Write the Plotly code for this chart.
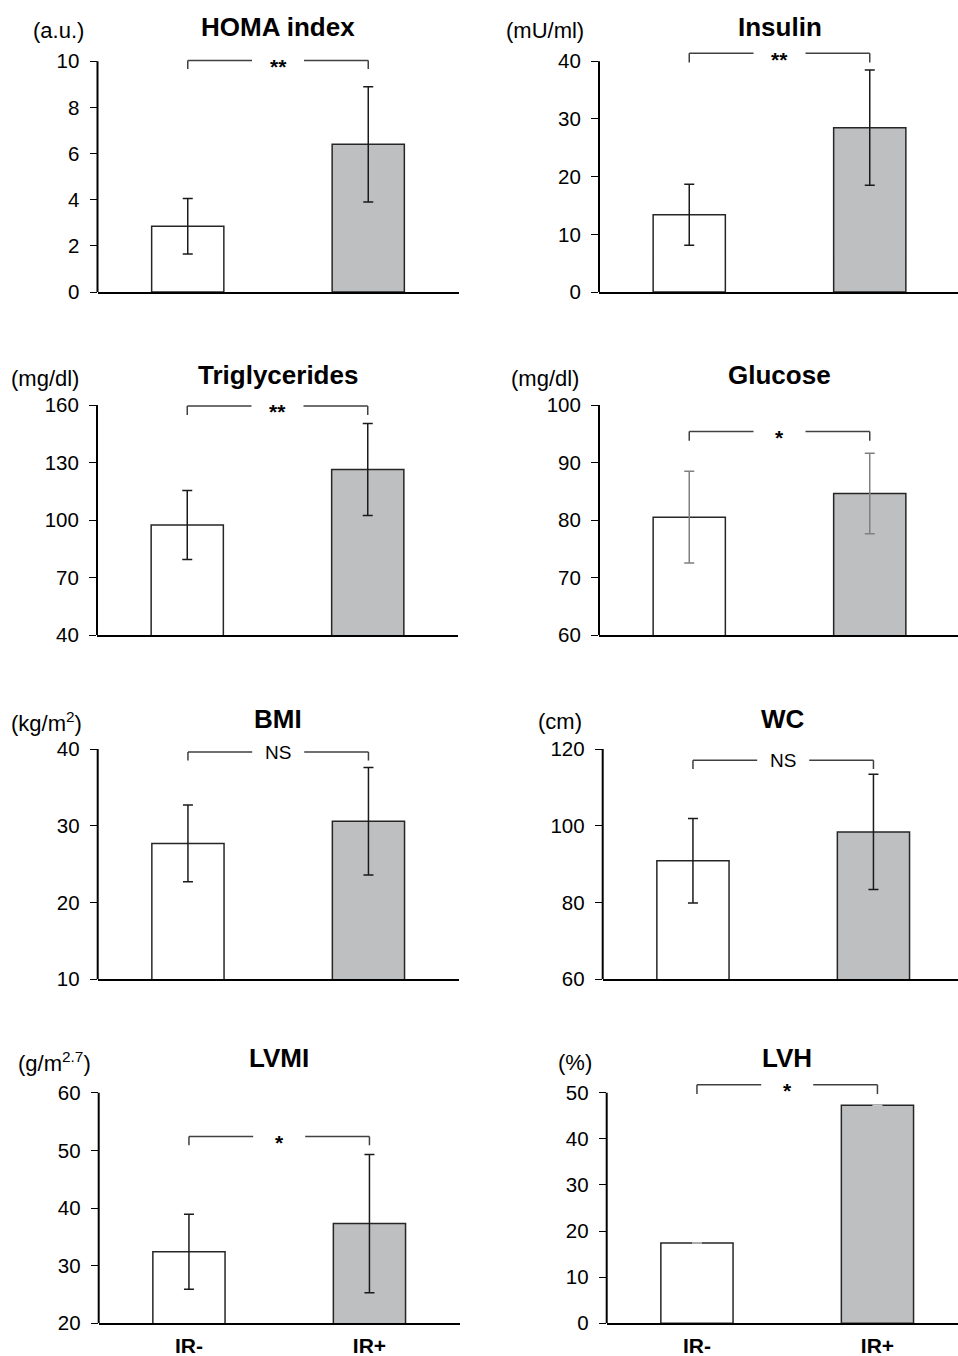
import plotly.graph_objects as go

# ---------------- data ----------------
panels = ["HOMA index", "Insulin", "Triglycerides", "Glucose", "BMI", "WC", "LVMI", "LVH"]
units = ["(a.u.)", "(mU/ml)", "(mg/dl)", "(mg/dl)", "(kg/m<sup>2</sup>)", "(cm)",
         "(g/m<sup>2.7</sup>)", "(%)"]
groups = ["IR-", "IR+"]
ir_neg_mean = [2.85, 13.4, 97.4, 80.5, 27.7, 90.9, 32.4, 17.4]
ir_neg_sd = [1.2, 5.3, 18.0, 8.0, 5.0, 11.0, 6.5, 0.0]
ir_pos_mean = [6.4, 28.5, 126.4, 84.6, 30.6, 98.4, 37.3, 47.3]
ir_pos_sd = [2.5, 10.0, 24.0, 7.0, 7.0, 15.0, 12.0, 0.0]
significance = ["**", "**", "**", "*", "NS", "NS", "*", "*"]
y_min = [0, 0, 40, 60, 10, 60, 20, 0]
y_max = [10, 40, 160, 100, 40, 120, 60, 50]
y_step = [2, 10, 30, 10, 10, 20, 10, 10]
bracket_y = [10.03, 41.4, 159.5, 95.4, 39.6, 117.1, 52.4, 51.7]
bracket_drop = [0.36, 1.6, 4.7, 1.6, 1.1, 2.3, 1.5, 2.0]

# ---------------- layout geometry (reference pixels) ----------------
REF_W, REF_H = 958, 1356
W = REF_W
H = 1367                      # compensates the slight vertical squeeze of the capture
SY = H / REF_H
axis_x_px = [97.5, 599, 97, 599, 97.7, 602.7, 98.7, 606.7]
top_px = [61.3, 61.3, 405, 405, 749, 749, 1092.7, 1092.7]
bot_px = [292, 292, 635, 635, 979.3, 979.3, 1323.3, 1323.3]
unit_px = 180.5
title_y_px = [27, 27, 375, 375, 719, 719, 1058, 1058]
unit_y_px = [30, 30, 379, 378, 722, 722, 1062, 1062]
unit_right_px = [86, 586, 81, 581, 84, 584, 93, 594]
headroom_px = 30
gap_half = 26 / unit_px


def fx(p):
    return p / W


def fy(p):
    return 1 - (p * SY) / H


FONT = "Liberation Sans, Arial, sans-serif"
WHITE = "#ffffff"
GRAY = "#bebfc1"
OUTLINE = "#262626"
err_colors = ["#1a1a1a", "#1a1a1a", "#1a1a1a", "#808080", "#1a1a1a", "#1a1a1a", "#1a1a1a", "#c8c8c8"]

fig = go.Figure()
layout = dict(width=W, height=H, margin=dict(l=0, r=0, t=0, b=0),
              paper_bgcolor="white", plot_bgcolor="white", showlegend=False,
              font=dict(family=FONT, color="black"))
shapes = []
annotations = []

for i in range(8):
    n = i + 1
    xa = "x" if n == 1 else f"x{n}"
    ya = "y" if n == 1 else f"y{n}"
    xkey = "xaxis" if n == 1 else f"xaxis{n}"
    ykey = "yaxis" if n == 1 else f"yaxis{n}"

    left = axis_x_px[i]
    right = min(left + 2 * unit_px, W)
    x_range = [-0.5, -0.5 + (right - left) / unit_px]
    scale = (bot_px[i] - top_px[i]) / (y_max[i] - y_min[i])
    y_top_ext = y_max[i] + headroom_px / scale
    dom_top = top_px[i] - headroom_px

    fig.add_trace(go.Bar(
        x=[0, 1], y=[ir_neg_mean[i], ir_pos_mean[i]], width=0.4,
        marker=dict(color=[WHITE, GRAY], line=dict(color=OUTLINE, width=1.5)),
        error_y=dict(type="data", array=[ir_neg_sd[i], ir_pos_sd[i]], visible=True,
                     color=err_colors[i], thickness=1.5, width=5),
        xaxis=xa, yaxis=ya, hoverinfo="skip"))

    bottom_row = i >= 6
    layout[xkey] = dict(domain=[fx(left), fx(right)], range=x_range, anchor=ya,
                        showline=True, linecolor="black", linewidth=2,
                        showgrid=False, zeroline=False, ticks="",
                        tickvals=[0, 1], ticktext=[f"<b>{g}</b>" for g in groups],
                        showticklabels=bottom_row, ticklabelstandoff=2,
                        tickfont=dict(size=21, family=FONT, color="black"))
    layout[ykey] = dict(domain=[fy(bot_px[i]), fy(dom_top)],
                        range=[y_min[i], y_top_ext], anchor=xa,
                        showline=False, showgrid=False, zeroline=False,
                        tickvals=list(range(y_min[i], y_max[i] + 1, y_step[i])),
                        ticks="outside", ticklen=7, tickwidth=1.2, tickcolor="black",
                        ticklabelstandoff=6,
                        tickfont=dict(size=20.5, family=FONT, color="black"))

    # y-axis spine from y_min to y_max
    shapes.append(dict(type="line", xref=f"{xa} domain", yref=ya, x0=0, x1=0,
                       y0=y_min[i], y1=y_max[i], line=dict(color="black", width=2)))

    # significance bracket
    by = bracket_y[i]
    bd = bracket_drop[i]
    bl = dict(color="#404040", width=1.5)
    shapes += [
        dict(type="line", xref=xa, yref=ya, x0=0, x1=0, y0=by - bd, y1=by, line=bl),
        dict(type="line", xref=xa, yref=ya, x0=0, x1=0.5 - gap_half, y0=by, y1=by, line=bl),
        dict(type="line", xref=xa, yref=ya, x0=0.5 + gap_half, x1=1, y0=by, y1=by, line=bl),
        dict(type="line", xref=xa, yref=ya, x0=1, x1=1, y0=by - bd, y1=by, line=bl),
    ]
    star = "*" in significance[i]
    annotations.append(dict(xref=xa, yref=ya, x=0.5, y=by,
                            text=(f"<b>{significance[i]}</b>" if star else significance[i]),
                            showarrow=False, xanchor="center", yanchor="middle",
                            yshift=(-6 if star else 0),
                            font=dict(size=(21 if star else 19), family=FONT, color="black")))

    # title and unit
    annotations.append(dict(xref=xa, yref="paper", x=0.5, y=fy(title_y_px[i]),
                            text=f"<b>{panels[i]}</b>", showarrow=False,
                            xanchor="center", yanchor="middle",
                            font=dict(size=26, family=FONT, color="black")))
    annotations.append(dict(xref="paper", yref="paper", x=fx(unit_right_px[i]),
                            y=fy(unit_y_px[i]), text=units[i], showarrow=False,
                            xanchor="right", yanchor="middle",
                            font=dict(size=22, family=FONT, color="black")))

layout["shapes"] = shapes
layout["annotations"] = annotations
fig.update_layout(**layout)

# make the page exactly the size of the figure (no body margin, no stray line boxes)
page_fix = """
(function(){
  var h = document.documentElement, b = document.body;
  [h, b].forEach(function(e){
    e.style.margin='0'; e.style.padding='0'; e.style.overflow='hidden';
  });
  b.style.fontSize='0'; b.style.lineHeight='0';
  var g = document.querySelector('.plotly-graph-div');
  if (g && g.parentElement) {
    var p = g.parentElement;
    p.style.margin='0'; p.style.padding='0';
    p.style.fontSize='0'; p.style.lineHeight='0';
  }
})();
"""
fig.write_html("out.html", post_script=page_fix, config={"displayModeBar": False})
